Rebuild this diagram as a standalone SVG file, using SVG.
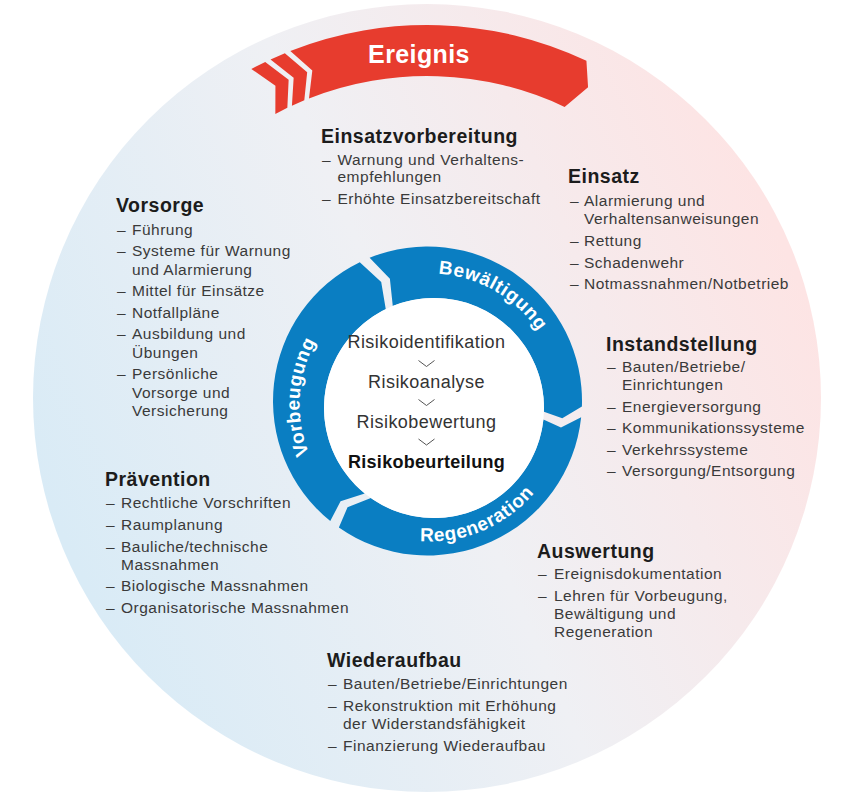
<svg xmlns="http://www.w3.org/2000/svg" width="850" height="805" viewBox="0 0 850 805">
<defs>
<linearGradient id="bg" x1="0.05" y1="0.7" x2="0.95" y2="0.3">
<stop offset="0" stop-color="#d9ebf6"/>
<stop offset="0.5" stop-color="#eff0f4"/>
<stop offset="1" stop-color="#fde4e4"/>
</linearGradient>
<path id="pVor" d="M 357.75 512.91 A 130 130 0 0 1 371.49 288.16"/>
<path id="pBew" d="M 364 291.05 A 131 131 0 0 1 560.5 404.5"/>
<path id="pReg" d="M 347.05 513.91 A 137 137 0 0 0 565.47 421.20"/>
</defs>
<style>
.h{font-family:"Liberation Sans",Arial,sans-serif;font-size:19.5px;font-weight:bold;fill:#1c1c1c;letter-spacing:0.5px}
.t{font-family:"Liberation Sans",Arial,sans-serif;font-size:15.5px;fill:#3a3a3a;letter-spacing:0.5px}
.seg{fill:#0a7ec2}
.red{fill:#e73c2e}
.rl{font-family:"Liberation Sans",Arial,sans-serif;font-size:19px;font-weight:bold;fill:#ffffff;letter-spacing:0.6px}
.c{font-family:"Liberation Sans",Arial,sans-serif;font-size:18px;fill:#333333;letter-spacing:0.45px;text-anchor:middle}
.cb{font-family:"Liberation Sans",Arial,sans-serif;font-size:18px;font-weight:bold;fill:#111111;letter-spacing:0.3px;text-anchor:middle}
.chev{fill:none;stroke:#555555;stroke-width:1}
</style>
<rect width="850" height="805" fill="#ffffff"/>
<circle id="background" cx="427" cy="398" r="394" fill="url(#bg)"/>

<g id="ereignis">
<path class="red" d="M 290.3 50.96 A 373 373 0 0 1 586.42 60.77 L 588.07 87.27 L 564.62 106.88 A 322 322 0 0 0 308.99 98.41 L 312.32 70.5 Z"/>
<path class="red" d="M 284.85 53.16 L 307.18 72.34 L 304.29 100.31 L 291.92 105.69 L 293.65 77.65 L 270.53 59.39 Z"/>
<path class="red" d="M 265.23 61.89 L 288.65 79.77 L 287.35 107.85 L 275.34 113.96 L 275.43 85.84 L 251.32 68.98 Z"/>
<text x="419" y="63" text-anchor="middle" style="font-family:'Liberation Sans',Arial,sans-serif;font-size:25px;font-weight:bold;fill:#ffffff;letter-spacing:0.4px">Ereignis</text>
</g>

<g id="vorbeugung">
<path class="seg" d="M 330.27 521.06 A 154.5 154.5 0 0 1 359.77 262.14 L 381.21 281.88 L 385.78 309.13 A 110 110 0 0 0 364.78 493.48 L 340.56 501.23 Z"/>
<text class="rl"><textPath href="#pVor" startOffset="50%" text-anchor="middle">Vorbeugung</textPath></text>
</g>
<g id="bewaeltigung">
<path class="seg" d="M 369.62 257.75 A 154.5 154.5 0 0 1 581.91 406.39 L 562.27 418.32 L 543.93 411.84 A 110 110 0 0 0 392.79 306.01 L 389.89 278.72 Z"/>
<text class="rl"><textPath href="#pBew" startOffset="50%" text-anchor="middle">Bewältigung</textPath></text>
</g>
<g id="regeneration">
<path class="seg" d="M 581.15 417.15 A 154.5 154.5 0 0 1 338.88 527.57 L 347.53 507.27 L 370.90 498.11 A 110 110 0 0 0 543.40 419.50 L 560.99 427.46 Z"/>
<text class="rl"><textPath href="#pReg" startOffset="50%" text-anchor="middle">Regeneration</textPath></text>
</g>

<g id="risikobeurteilung">
<circle cx="434" cy="408" r="110" fill="#ffffff"/>
<text class="c" x="426.5" y="348">Risikoidentifikation</text>
<text class="c" x="426.5" y="388">Risikoanalyse</text>
<text class="c" x="426.5" y="427.5">Risikobewertung</text>
<text class="cb" x="426.5" y="468">Risikobeurteilung</text>
</g>

<g id="connectors">
<path class="chev" d="M 418.5 360.5 L 426.5 366.5 L 434.5 360.5"/>
<path class="chev" d="M 418.5 399.5 L 426.5 405.5 L 434.5 399.5"/>
<path class="chev" d="M 418.5 439 L 426.5 445 L 434.5 439"/>
</g>

<g id="einsatzvorbereitung">
<text class="h" x="321" y="142.5">Einsatzvorbereitung</text>
<text class="t">
<tspan x="322" y="164.5">–</tspan><tspan x="337.5" y="164.5">Warnung und Verhaltens-</tspan>
<tspan x="337.5" y="182">empfehlungen</tspan>
<tspan x="322" y="203.5">–</tspan><tspan x="337.5" y="203.5">Erhöhte Einsatzbereitschaft</tspan>
</text>
</g>

<g id="einsatz">
<text class="h" x="568" y="183">Einsatz</text>
<text class="t">
<tspan x="570" y="206">–</tspan><tspan x="584" y="206">Alarmierung und</tspan>
<tspan x="584" y="223.5">Verhaltensanweisungen</tspan>
<tspan x="570" y="246">–</tspan><tspan x="584" y="246">Rettung</tspan>
<tspan x="570" y="267.5">–</tspan><tspan x="584" y="267.5">Schadenwehr</tspan>
<tspan x="570" y="289">–</tspan><tspan x="584" y="289">Notmassnahmen/Notbetrieb</tspan>
</text>
</g>

<g id="vorsorge">
<text class="h" x="116" y="212">Vorsorge</text>
<text class="t">
<tspan x="117" y="234.5">–</tspan><tspan x="132" y="234.5">Führung</tspan>
<tspan x="117" y="256">–</tspan><tspan x="132" y="256">Systeme für Warnung</tspan>
<tspan x="132" y="274.5">und Alarmierung</tspan>
<tspan x="117" y="296">–</tspan><tspan x="132" y="296">Mittel für Einsätze</tspan>
<tspan x="117" y="317.5">–</tspan><tspan x="132" y="317.5">Notfallpläne</tspan>
<tspan x="117" y="339">–</tspan><tspan x="132" y="339">Ausbildung und</tspan>
<tspan x="132" y="357.5">Übungen</tspan>
<tspan x="117" y="379">–</tspan><tspan x="132" y="379">Persönliche</tspan>
<tspan x="132" y="397.5">Vorsorge und</tspan>
<tspan x="132" y="416">Versicherung</tspan>
</text>
</g>

<g id="instandstellung">
<text class="h" x="606" y="351">Instandstellung</text>
<text class="t">
<tspan x="607" y="372">–</tspan><tspan x="622" y="372">Bauten/Betriebe/</tspan>
<tspan x="622" y="390">Einrichtungen</tspan>
<tspan x="607" y="411.5">–</tspan><tspan x="622" y="411.5">Energieversorgung</tspan>
<tspan x="607" y="433">–</tspan><tspan x="622" y="433">Kommunikationssysteme</tspan>
<tspan x="607" y="454.5">–</tspan><tspan x="622" y="454.5">Verkehrssysteme</tspan>
<tspan x="607" y="476">–</tspan><tspan x="622" y="476">Versorgung/Entsorgung</tspan>
</text>
</g>

<g id="praevention">
<text class="h" x="105" y="486">Prävention</text>
<text class="t">
<tspan x="106" y="508">–</tspan><tspan x="121" y="508">Rechtliche Vorschriften</tspan>
<tspan x="106" y="530">–</tspan><tspan x="121" y="530">Raumplanung</tspan>
<tspan x="106" y="552">–</tspan><tspan x="121" y="552">Bauliche/technische</tspan>
<tspan x="121" y="569.5">Massnahmen</tspan>
<tspan x="106" y="591">–</tspan><tspan x="121" y="591">Biologische Massnahmen</tspan>
<tspan x="106" y="613">–</tspan><tspan x="121" y="613">Organisatorische Massnahmen</tspan>
</text>
</g>

<g id="auswertung">
<text class="h" x="537" y="558">Auswertung</text>
<text class="t">
<tspan x="538" y="579">–</tspan><tspan x="554" y="579">Ereignisdokumentation</tspan>
<tspan x="538" y="600.5">–</tspan><tspan x="554" y="600.5">Lehren für Vorbeugung,</tspan>
<tspan x="554" y="618.5">Bewältigung und</tspan>
<tspan x="554" y="637">Regeneration</tspan>
</text>
</g>

<g id="wiederaufbau">
<text class="h" x="327" y="667">Wiederaufbau</text>
<text class="t">
<tspan x="328" y="689">–</tspan><tspan x="343" y="689">Bauten/Betriebe/Einrichtungen</tspan>
<tspan x="328" y="711">–</tspan><tspan x="343" y="711">Rekonstruktion mit Erhöhung</tspan>
<tspan x="343" y="728.5">der Widerstandsfähigkeit</tspan>
<tspan x="328" y="751">–</tspan><tspan x="343" y="751">Finanzierung Wiederaufbau</tspan>
</text>
</g>
</svg>
